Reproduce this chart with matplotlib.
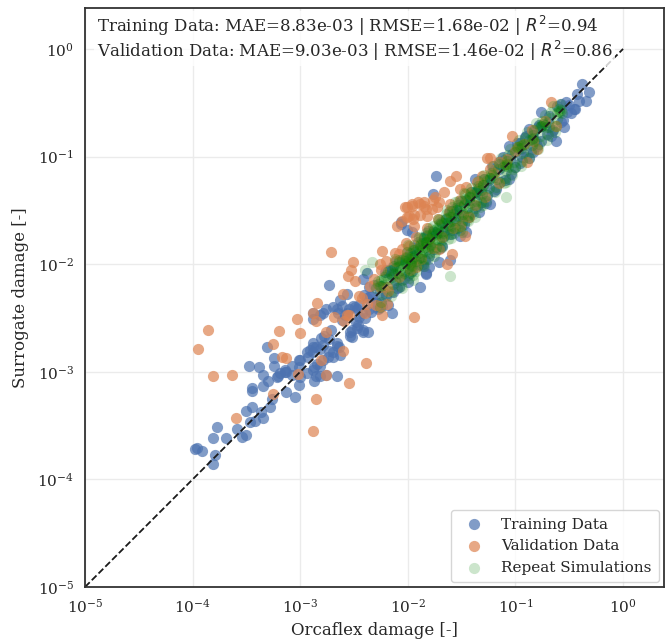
import numpy as np
import matplotlib.pyplot as plt
import seaborn as sns

sns.set_theme(style="whitegrid", palette="deep")
plt.rcParams['font.family'] = ['DejaVu Serif']

# log10 of damage values
train_lx = [-3.98, -3.91, -3.96, -3.81, -3.79, -3.81, -3.69, -3.77, -3.59, -3.54, -3.50, -3.50, -3.45,
            -3.47, -3.42, -3.36, -3.35, -3.28, -3.45, -3.45, -3.35, -3.26, -3.30, -3.22, -3.13, -3.05,
            -3.35, -3.19, -3.13, -3.01, -3.48, -3.38, -3.31, -3.24, -3.24, -3.21, -3.14, -3.08, -3.00,
            -2.94, -3.00, -2.88, -2.85, -2.82, -2.79, -2.70, -2.66, -2.52, -2.42, -2.88, -2.79, -2.66,
            -2.55, -2.43,
            -3.14, -3.08, -3.01, -2.94, -2.88, -2.82, -2.87, -2.76, -3.01, -2.93, -2.88, -2.82, -2.73,
            -2.70, -2.63, -2.88, -2.85, -2.79, -2.73, -2.66, -2.88, -2.82, -2.76, -2.70, -2.65, -2.57,
            -2.61, -2.51, -2.47, -2.45, -2.42, -2.37, -2.54, -2.52, -2.48, -2.73, -2.57, -2.63, -2.42,
            -2.38, -2.36, -2.33, -2.26, -2.20, -2.15, -2.24, -2.29, -2.36, -2.20, -2.14, -2.06, -2.01,
            -1.96, -2.11, -2.00, -1.89, -1.83, -1.86, -1.71, -1.61, -1.52, -1.59, -1.46, -1.34,
            -0.99, -1.18, -1.74, -1.77, -2.06, -1.83, -1.80,
            -0.38, -0.32, -0.43, -0.34, -0.41, -0.53, -0.52, -0.45, -0.58, -0.55, -0.62, -0.71, -0.76,
            -0.76, -0.83, -0.87, -0.90, -0.96, -0.81, -0.85, -0.94, -1.03, -1.06, -1.12, -1.15, -1.22,
            -1.43, -1.34, -1.27, -1.50, -1.57, -1.66, -1.24, -1.38,
            -2.30, -2.25, -2.20, -2.15, -2.10, -2.05, -2.00, -1.95, -1.90, -1.85, -1.80, -1.75, -1.70,
            -1.65, -1.60, -1.55, -1.50, -1.45, -1.40, -1.35, -1.30, -1.25, -1.20, -1.15, -1.10, -1.05,
            -1.00, -0.95, -0.90, -0.85, -0.80, -0.70, -0.65, -0.50, -0.48, -2.40, -2.35, -2.45, -2.28,
            -2.18,
            -2.91, -2.84, -2.81, -2.74, -2.71, -2.64, -2.61, -2.54, -2.49, -2.46, -2.41, -2.34, -2.31,
            -2.26, -2.21, -2.14, -2.11, -2.04, -2.01, -1.96, -1.91, -1.84, -1.81, -1.76, -1.69, -1.66,
            -1.61, -1.54, -1.51, -1.44, -1.41, -1.36, -1.29, -1.26, -1.21, -1.14, -1.11, -1.04, -0.99,
            -0.96, -0.91, -0.84, -0.79, -0.76, -0.69, -0.66, -0.61, -0.56,
            -2.87, -2.78, -2.66, -2.58, -2.47, -2.38, -2.27, -2.16, -2.08, -1.97, -1.88, -1.77, -1.68,
            -1.57, -1.48, -1.36, -1.27, -1.18, -1.06, -0.98, -0.87, -0.78, -0.67, -0.58, -0.46]
train_ly = [-3.72, -3.74, -3.71, -3.86, -3.77, -3.62, -3.62, -3.51, -3.53, -3.61, -3.59, -3.36, -3.33,
            -3.47, -3.46, -3.37, -3.43, -3.33, -3.18, -3.15, -3.13, -3.25, -3.09, -3.05, -3.19, -3.23,
            -3.03, -3.01, -3.00, -3.12, -2.95, -2.96, -2.77, -2.87, -2.95, -3.04, -3.00, -3.03, -3.05,
            -2.82, -2.89, -2.77, -3.04, -2.95, -2.89, -2.82, -3.04, -2.68, -2.63, -2.51, -2.45, -2.42,
            -2.42, -2.45,
            -2.98, -2.95, -2.96, -3.01, -2.98, -3.04, -3.09, -3.03, -2.89, -2.86, -2.82, -2.79, -2.81,
            -2.86, -2.84, -2.73, -2.77, -2.75, -2.70, -2.73, -2.45, -2.47, -2.42, -2.40, -2.45, -2.45,
            -2.39, -2.39, -2.42, -2.49, -2.61, -2.63, -2.67, -2.61, -2.54, -2.19, -2.28, -2.33, -2.14,
            -2.08, -2.21, -2.30, -2.26, -2.30, -2.45, -2.39, -2.36, -2.42, -2.05, -2.02, -1.63, -1.68,
            -1.70, -2.17, -2.17, -2.21, -2.09, -2.02, -1.98, -1.96, -1.74, -1.68, -1.70, -1.52,
            -0.87, -1.30, -1.18, -1.35, -1.61, -2.08, -2.03,
            -0.33, -0.40, -0.42, -0.48, -0.48, -0.49, -0.59, -0.56, -0.68, -0.73, -0.86, -0.79, -0.72,
            -0.59, -0.76, -0.74, -0.81, -0.87, -0.86, -0.93, -1.00, -0.98, -0.90, -1.00, -1.05, -1.09,
            -1.40, -1.35, -1.26, -1.54, -1.60, -1.68, -1.44, -1.21,
            -2.35, -2.20, -2.28, -2.05, -2.22, -1.95, -2.10, -1.85, -2.00, -1.75, -1.92, -1.70, -1.85,
            -1.58, -1.72, -1.48, -1.62, -1.40, -1.52, -1.30, -1.42, -1.22, -1.32, -1.12, -1.22, -1.02,
            -1.10, -0.93, -1.00, -0.80, -0.90, -0.68, -0.75, -0.52, -0.60, -2.50, -2.30, -2.38, -2.42,
            -2.38,
            -2.80, -2.93, -2.69, -2.86, -2.61, -2.77, -2.52, -2.63, -2.40, -2.57, -2.29, -2.44, -2.19,
            -2.36, -2.07, -2.26, -1.97, -2.14, -1.89, -2.06, -1.79, -1.96, -1.69, -1.86, -1.61, -1.74,
            -1.51, -1.66, -1.41, -1.56, -1.33, -1.46, -1.21, -1.36, -1.13, -1.24, -1.03, -1.16, -0.93,
            -1.06, -0.82, -0.96, -0.73, -0.86, -0.62, -0.76, -0.53, -0.66,
            -2.96, -2.67, -2.76, -2.47, -2.59, -2.31, -2.41, -2.09, -2.21, -1.91, -2.01, -1.71, -1.83,
            -1.51, -1.63, -1.33, -1.43, -1.11, -1.21, -0.93, -1.01, -0.71, -0.81, -0.51, -0.56]

val_lx = [-3.86, -3.95, -3.81, -3.63, -3.60, -3.25, -3.02, -2.88, -2.85, -3.20, -3.25, -3.17, -3.13,
          -3.03, -3.00, -2.84, -2.88, -2.85, -2.76, -2.60, -2.56, -2.53, -2.51, -2.49, -2.69, -2.57,
          -2.60, -2.81, -2.55, -2.39, -2.38, -2.55, -2.71, -2.43, -2.26, -2.24, -2.19, -1.94, -2.76,
          -2.59,
          -2.01, -1.96, -1.91, -1.85, -1.78, -1.73, -1.99, -1.89, -1.82, -1.94, -2.01, -2.24, -2.20,
          -2.26, -2.31, -2.26, -2.19, -2.08, -1.96, -1.92,
          -1.26, -1.55, -1.61, -1.66, -2.03, -1.96, -1.89, -1.83, -2.01, -1.94, -1.77, -1.71, -1.61,
          -1.52, -1.46, -1.36, -1.31, -1.24, -1.15, -1.64, -1.59, -1.47, -2.05, -1.99,
          -0.67, -0.73, -0.62, -1.03, -0.98, -0.84, -0.80, -1.24, -1.09, -0.89,
          -1.80, -1.71, -1.52, -1.43, -2.12, -1.89,
          -2.45, -2.40, -2.35, -2.30, -2.25, -2.18, -2.12, -2.08, -2.02, -1.98, -1.92, -1.88, -1.82,
          -1.78, -1.72, -1.68, -1.62, -1.58, -1.52, -1.48, -1.42, -1.38, -1.32, -1.28, -1.20, -1.15,
          -1.08, -1.00, -0.92, -0.85, -2.05, -2.10, -1.95, -1.85, -1.75]
val_ly = [-2.61, -2.79, -3.04, -3.03, -3.43, -3.21, -3.02, -3.55, -3.25, -2.62, -2.74, -2.86, -2.87,
          -2.51, -2.64, -2.36, -2.45, -2.53, -2.63, -2.28, -2.11, -2.05, -1.98, -2.16, -2.49, -2.47,
          -2.81, -2.89, -3.10, -2.92, -2.37, -2.47, -1.89, -2.31, -2.39, -2.47, -2.37, -2.49, -3.03,
          -2.53,
          -1.47, -1.44, -1.42, -1.46, -1.49, -1.47, -1.55, -1.54, -1.55, -1.65, -1.93, -1.88, -1.97,
          -2.00, -2.14, -2.21, -2.21, -1.91, -1.98, -2.03,
          -1.01, -1.18, -1.23, -1.33, -1.47, -1.46, -1.44, -1.49, -1.56, -1.54, -1.40, -1.42, -1.44,
          -1.30, -1.28, -1.24, -1.18, -1.12, -1.05, -2.00, -1.91, -1.74, -1.86, -1.83,
          -0.49, -0.67, -0.72, -0.81, -0.91, -0.86, -0.93, -1.01, -1.07, -1.05,
          -1.77, -1.86, -1.65, -1.56, -1.97, -1.82,
          -2.30, -2.45, -2.20, -2.38, -2.05, -2.25, -1.90, -2.12, -1.80, -2.05, -1.75, -1.95, -1.66,
          -1.85, -1.58, -1.75, -1.52, -1.66, -1.40, -1.55, -1.35, -1.45, -1.25, -1.38, -1.15, -1.25,
          -1.02, -0.95, -0.88, -0.75, -1.60, -1.65, -1.58, -1.42, -1.38]

rep_lx = [-2.30, -2.28, -2.25, -2.26, -2.22,
          -2.20, -2.18, -2.17, -2.15, -2.14, -2.13, -2.12,
          -2.10, -2.09, -2.08, -2.07, -2.06, -2.05, -2.04, -2.03,
          -2.02, -2.01, -2.00, -1.99, -1.98, -1.97, -1.96, -1.95,
          -1.94, -1.93, -1.92, -1.91, -1.90, -1.89, -1.88, -1.87,
          -1.86, -1.85, -1.84, -1.83, -1.82, -1.81, -1.80, -1.79,
          -1.78, -1.76, -1.75, -1.73, -1.72, -1.71, -1.70,
          -1.68, -1.66, -1.65, -1.63, -1.62, -1.61, -1.60,
          -1.58, -1.56, -1.55, -1.53, -1.52, -1.50,
          -1.48, -1.46, -1.45, -1.43, -1.42, -1.40,
          -1.38, -1.36, -1.34, -1.32, -1.30,
          -1.26, -1.24, -1.22, -1.20,
          -1.12, -1.10, -1.09, -1.08, -1.07,
          -0.98, -0.96, -0.95, -0.94,
          -0.87, -0.85, -0.84, -0.83,
          -0.77, -0.75, -0.74, -0.72, -0.73,
          -0.61, -0.59, -0.58, -0.57, -0.60,
          -1.09, -1.09, -1.38, -1.61, -2.40, -2.33, -1.50, -1.00, -1.95, -1.30,
          -2.28, -2.25, -2.23, -2.26, -2.22, -2.24,
          -2.18, -2.15, -2.13, -2.16, -2.12, -2.14,
          -2.08, -2.05, -2.03, -2.06, -2.02, -2.04,
          -2.01, -1.98, -1.96, -1.99, -1.95, -1.97,
          -1.94, -1.91, -1.89, -1.92, -1.88, -1.90,
          -1.88, -1.85, -1.83, -1.86, -1.82, -1.84,
          -1.83, -1.80, -1.78, -1.81, -1.77, -1.79,
          -1.77, -1.74, -1.72, -1.75, -1.71, -1.73,
          -1.71, -1.68, -1.66, -1.69, -1.65, -1.67,
          -1.65, -1.62, -1.60, -1.63, -1.59, -1.61,
          -1.59, -1.56, -1.54, -1.57, -1.53, -1.55,
          -1.53, -1.50, -1.48, -1.51, -1.47, -1.49,
          -1.47, -1.44, -1.42, -1.45, -1.41, -1.43,
          -1.41, -1.38, -1.36, -1.39, -1.35, -1.37,
          -1.35, -1.32, -1.30, -1.33, -1.29, -1.31,
          -1.29, -1.26, -1.24, -1.27, -1.23, -1.25,
          -1.21, -1.18, -1.16, -1.19, -1.15, -1.17,
          -1.13, -1.10, -1.08, -1.11, -1.07, -1.09,
          -1.05, -1.02, -1.00, -1.03, -0.99, -1.01,
          -0.97, -0.94, -0.92, -0.95, -0.91, -0.93,
          -0.89, -0.86, -0.84, -0.87, -0.83, -0.85,
          -0.81, -0.78, -0.76, -0.79, -0.75, -0.77,
          -0.73, -0.70, -0.68, -0.71, -0.67, -0.69,
          -0.65, -0.62, -0.60, -0.63, -0.59, -0.61,
          -2.12, -2.05, -2.00, -1.95, -1.90, -1.85, -1.80, -1.76, -1.72, -1.68, -1.64, -1.60, -1.56,
          -1.52, -1.48, -1.44, -2.08, -2.03, -1.98, -1.93, -1.87, -1.82, -1.78, -1.74, -1.69, -1.64]
rep_ly = [-2.22, -2.18, -2.15, -2.20, -2.12,
          -2.10, -2.14, -2.05, -2.12, -2.08, -2.02, -2.15,
          -2.03, -2.08, -1.98, -2.05, -2.10, -1.96, -2.01, -2.06,
          -1.93, -1.99, -2.04, -1.95, -1.90, -1.98, -2.02, -1.94,
          -1.87, -1.92, -1.97, -1.85, -1.90, -1.82, -1.93, -1.86,
          -1.80, -1.76, -1.84, -1.79, -1.73, -1.86, -1.77, -1.82,
          -1.72, -1.68, -1.76, -1.66, -1.71, -1.78, -1.64,
          -1.62, -1.69, -1.58, -1.64, -1.56, -1.66, -1.60,
          -1.53, -1.57, -1.50, -1.55, -1.47, -1.52,
          -1.45, -1.40, -1.48, -1.38, -1.43, -1.36,
          -1.33, -1.38, -1.29, -1.31, -1.26,
          -1.22, -1.20, -1.17, -1.19,
          -1.10, -1.08, -1.09, -1.07, -1.10,
          -0.91, -0.90, -0.92, -0.89,
          -0.85, -0.84, -0.83, -0.86,
          -0.73, -0.72, -0.70, -0.73, -0.71,
          -0.60, -0.59, -0.57, -0.60, -0.58,
          -1.38, -1.24, -1.56, -2.11, -2.05, -1.98, -1.70, -1.10, -2.15, -1.45,
          -2.16, -2.35, -2.19, -2.40, -2.14, -2.28,
          -2.06, -2.25, -2.09, -2.30, -2.04, -2.18,
          -1.96, -2.15, -1.99, -2.20, -1.94, -2.08,
          -1.89, -2.08, -1.92, -2.13, -1.87, -2.01,
          -1.82, -2.01, -1.85, -2.06, -1.80, -1.94,
          -1.76, -1.95, -1.79, -2.00, -1.74, -1.88,
          -1.71, -1.90, -1.74, -1.95, -1.69, -1.83,
          -1.65, -1.84, -1.68, -1.89, -1.63, -1.77,
          -1.59, -1.78, -1.62, -1.83, -1.57, -1.71,
          -1.53, -1.72, -1.56, -1.77, -1.51, -1.65,
          -1.47, -1.66, -1.50, -1.71, -1.45, -1.59,
          -1.41, -1.60, -1.44, -1.65, -1.39, -1.53,
          -1.35, -1.54, -1.38, -1.59, -1.33, -1.47,
          -1.29, -1.48, -1.32, -1.53, -1.27, -1.41,
          -1.23, -1.42, -1.26, -1.47, -1.21, -1.35,
          -1.17, -1.36, -1.20, -1.41, -1.15, -1.29,
          -1.09, -1.28, -1.12, -1.33, -1.07, -1.21,
          -1.01, -1.20, -1.04, -1.25, -0.99, -1.13,
          -0.93, -1.12, -0.96, -1.17, -0.91, -1.05,
          -0.85, -1.04, -0.88, -1.09, -0.83, -0.97,
          -0.77, -0.96, -0.80, -1.01, -0.75, -0.89,
          -0.69, -0.88, -0.72, -0.93, -0.67, -0.81,
          -0.61, -0.80, -0.64, -0.85, -0.59, -0.73,
          -0.53, -0.72, -0.56, -0.77, -0.51, -0.65,
          -1.95, -2.22, -1.82, -2.10, -1.75, -2.02, -1.66, -1.92, -1.58, -1.84, -1.50, -1.76, -1.42,
          -1.68, -1.34, -1.60, -2.02, -1.97, -2.00, -1.89, -1.90, -1.80, -1.79, -1.72, -1.70, -1.62]

train_text = r"Training Data: MAE=8.83e-03 | RMSE=1.68e-02 | $R^2$=0.94"
val_text = r"Validation Data: MAE=9.03e-03 | RMSE=1.46e-02 | $R^2$=0.86"

fig = plt.figure(figsize=(6.65, 6.43), dpi=100)
ax = fig.add_axes([85 / 665, 56 / 643, 579 / 665, 579 / 643])

pal = sns.color_palette("deep")
ax.scatter(10 ** np.array(train_lx), 10 ** np.array(train_ly), s=65, color=pal[0], alpha=0.7,
           linewidths=0, label="Training Data", zorder=2)
ax.scatter(10 ** np.array(val_lx), 10 ** np.array(val_ly), s=65, color=pal[1], alpha=0.7,
           linewidths=0, label="Validation Data", zorder=2)
ax.scatter(10 ** np.array(rep_lx), 10 ** np.array(rep_ly), s=65, color="green", alpha=0.2,
           linewidths=0, label="Repeat Simulations", zorder=2)

ax.plot([1e-5, 1], [1e-5, 1], "k--", lw=1.3, zorder=3)

ax.set_xscale("log")
ax.set_yscale("log")
ax.set_xlim(1e-5, 2.4)
ax.set_ylim(1e-5, 2.4)
ax.minorticks_off()
ax.tick_params(length=0, labelsize=11, pad=8)
ax.grid(True, color="0.92", lw=1)
for sp in ax.spines.values():
    sp.set_color("0.2")
    sp.set_linewidth(1.3)
    sp.set_zorder(6)

ax.set_xlabel("Orcaflex damage [-]", fontsize=12, labelpad=4)
ax.set_ylabel("Surrogate damage [-]", fontsize=12, labelpad=6)

ax.text(0.02, 0.99, train_text + "\n" + val_text, transform=ax.transAxes, fontsize=12,
        va="top", ha="left", linespacing=1.08, zorder=4,
        bbox=dict(facecolor="white", edgecolor="none", alpha=0.8, pad=2))

ax.legend(loc="lower right", fontsize=11, frameon=True, borderpad=0.5, handletextpad=0.8,
          labelspacing=0.5, borderaxespad=0.3)

fig.savefig("out.png", dpi=100)
